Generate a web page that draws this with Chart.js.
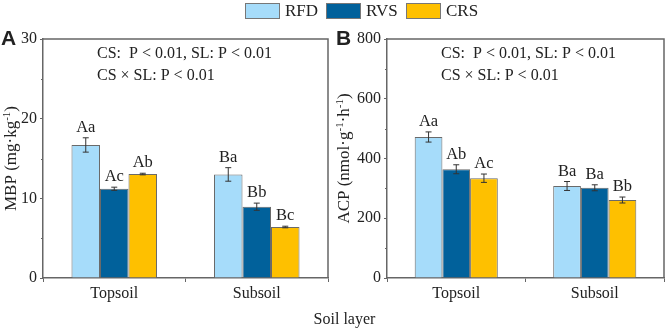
<!DOCTYPE html>
<html>
<head>
<meta charset="utf-8">
<script src="https://cdn.jsdelivr.net/npm/chart.js@4/dist/chart.umd.min.js"></script>
<style>
  body{margin:0;background:#fff;width:671px;height:329px;position:relative;overflow:hidden;font-family:"Liberation Serif",serif;}
  .box{position:absolute;top:0;height:329px;}
  #wa{left:0;width:335px;}
  #wb{left:335px;width:336px;}
  .leg{position:absolute;top:2px;height:18px;font-size:17px;color:#222;line-height:18px;}
  .sw{position:absolute;top:3px;width:35px;height:16px;border:1px solid #777;box-sizing:border-box;}
  #xt{position:absolute;top:310px;left:0;width:671px;text-align:center;font-size:16px;color:#222;padding-left:18px;box-sizing:border-box;}
</style>
</head>
<body>
<div class="box" id="wa"><canvas id="chartA" width="335" height="329"></canvas></div>
<div class="box" id="wb"><canvas id="chartB" width="336" height="329"></canvas></div>
<div class="sw" style="left:245px;background:#a6dcfa"></div><div class="leg" style="left:285px">RFD</div>
<div class="sw" style="left:326px;background:#01619b"></div><div class="leg" style="left:366px">RVS</div>
<div class="sw" style="left:406px;background:#fec000"></div><div class="leg" style="left:446px">CRS</div>
<div id="xt">Soil layer</div>
<script>
var layers = ['Topsoil', 'Subsoil'];
var seriesNames = ['RFD', 'RVS', 'CRS'];
var colors = ['#a6dcfa', '#01619b', '#fec000'];

// MBP (panel A)
var mbpRFD = [16.7, 13.0];
var mbpRVS = [11.2, 8.95];
var mbpCRS = [13.05, 6.4];
var mbpErrRFD = [0.9, 0.85];
var mbpErrRVS = [0.2, 0.45];
var mbpErrCRS = [0.1, 0.1];
var mbpLetters = [['Aa', 'Ba'], ['Ac', 'Bb'], ['Ab', 'Bc']];
var mbpTicks = [0, 10, 20, 30];

// ACP (panel B)
var acpRFD = [472, 308];
var acpRVS = [364, 302];
var acpCRS = [334, 261];
var acpErrRFD = [17, 15];
var acpErrRVS = [15, 10];
var acpErrCRS = [14, 10];
var acpLetters = [['Aa', 'Ba'], ['Ab', 'Ba'], ['Ac', 'Bb']];
var acpTicks = [0, 200, 400, 600, 800];

var serif = '"Liberation Serif", "Times New Roman", serif';

// error bars, letters, minor ticks, frame, stats text, y title, panel letter
var extras = {
  id: 'extras',
  afterDatasetsDraw: function(chart, args, opts){
    var ctx = chart.ctx;
    var ya = chart.scales.y;
    var area = chart.chartArea;
    ctx.save();
    // error bars + letters
    chart.data.datasets.forEach(function(ds, i){
      var meta = chart.getDatasetMeta(i);
      meta.data.forEach(function(bar, j){
        var v = ds.data[j], e = opts.errs[i][j];
        var yt = ya.getPixelForValue(v + e), yb = ya.getPixelForValue(v - e);
        ctx.strokeStyle = '#333';
        ctx.lineWidth = 1;
        ctx.beginPath();
        ctx.moveTo(bar.x, yt); ctx.lineTo(bar.x, yb);
        ctx.moveTo(bar.x - 3, yt); ctx.lineTo(bar.x + 3, yt);
        ctx.moveTo(bar.x - 3, yb); ctx.lineTo(bar.x + 3, yb);
        ctx.stroke();
        ctx.fillStyle = '#222';
        ctx.font = '16.5px ' + serif;
        ctx.textAlign = 'center';
        ctx.textBaseline = 'bottom';
        ctx.fillText(opts.letters[i][j], bar.x, yt - 2);
      });
    });
    // frame (top + right)
    ctx.strokeStyle = '#666';
    ctx.lineWidth = 1.5;
    ctx.beginPath();
    ctx.moveTo(area.left, area.top); ctx.lineTo(area.right, area.top); ctx.lineTo(area.right, area.bottom);
    ctx.stroke();
    // minor ticks
    ctx.lineWidth = 1;
    for (var k = 0; k < opts.ticks.length - 1; k++){
      var mid = (opts.ticks[k] + opts.ticks[k + 1]) / 2;
      var py = Math.round(ya.getPixelForValue(mid)) + 0.5;
      ctx.beginPath();
      ctx.moveTo(area.left - 2, py); ctx.lineTo(area.left, py);
      ctx.stroke();
    }
    // stats text
    ctx.fillStyle = '#222';
    ctx.font = '16px ' + serif;
    ctx.textAlign = 'left';
    ctx.textBaseline = 'middle';
    ctx.fillText('CS:  P < 0.01, SL: P < 0.01', area.left + 54, 54);
    ctx.fillText('CS \u00d7 SL: P < 0.01', area.left + 54, 76);
    // panel letter
    ctx.font = 'bold 21px "Liberation Sans", Arial, sans-serif';
    ctx.textBaseline = 'alphabetic';
    ctx.fillText(opts.panel, 1, 45);
    // y title with superscripts
    ctx.translate(opts.titleX, (area.top + area.bottom) / 2);
    ctx.rotate(-Math.PI / 2);
    var parts = opts.title;
    var big = '17px ' + serif, small = '11px ' + serif;
    var w = 0;
    parts.forEach(function(p){ ctx.font = p[1] ? small : big; w += ctx.measureText(p[0]).width; });
    var x = -w / 2;
    ctx.textBaseline = 'middle';
    parts.forEach(function(p){
      ctx.font = p[1] ? small : big;
      ctx.fillText(p[0], x, p[1] ? -5 : 0);
      x += ctx.measureText(p[0]).width;
    });
    ctx.restore();
  }
};

function makeChart(id, series, errs, letters, ticks, max, step, yw, panel, title, titleX){
  return new Chart(document.getElementById(id), {
    type: 'bar',
    data: {
      labels: layers,
      datasets: series.map(function(d, i){
        return {
          label: seriesNames[i],
          data: d,
          backgroundColor: colors[i],
          borderColor: '#6a6a6a',
          borderWidth: 1,
          categoryPercentage: 0.6,
          barPercentage: 1
        };
      })
    },
    options: {
      responsive: false,
      animation: false,
      layout: {padding: {top: 39, right: 7, left: 0, bottom: 0}},
      plugins: {
        legend: {display: false},
        tooltip: {enabled: false},
        extras: {errs: errs, letters: letters, ticks: ticks, panel: panel, title: title, titleX: titleX}
      },
      scales: {
        x: {
          offset: true,
          afterFit: function(s){ s.height = 51; },
          grid: {offset: true, drawOnChartArea: false, drawTicks: true, tickLength: 4, tickColor: '#666'},
          border: {color: '#666', width: 1.5},
          ticks: {color: '#222', font: {family: serif, size: 16}, padding: 2}
        },
        y: {
          min: 0, max: max,
          afterFit: function(s){ s.width = yw; },
          grid: {drawOnChartArea: false, drawTicks: true, tickLength: 3, tickColor: '#666'},
          border: {color: '#666', width: 1.5},
          ticks: {stepSize: step, color: '#222', font: {family: serif, size: 16}, padding: 3}
        }
      }
    },
    plugins: [extras]
  });
}

makeChart('chartA', [mbpRFD, mbpRVS, mbpCRS], [mbpErrRFD, mbpErrRVS, mbpErrCRS], mbpLetters, mbpTicks,
  30, 10, 43, 'A', [['MBP (mg\u00b7kg', 0], ['-1', 1], [')', 0]], 12);
makeChart('chartB', [acpRFD, acpRVS, acpCRS], [acpErrRFD, acpErrRVS, acpErrCRS], acpLetters, acpTicks,
  800, 200, 52, 'B', [['ACP (nmol\u00b7g', 0], ['-1', 1], ['\u00b7h', 0], ['-1', 1], [')', 0]], 10);
</script>
</body>
</html>
